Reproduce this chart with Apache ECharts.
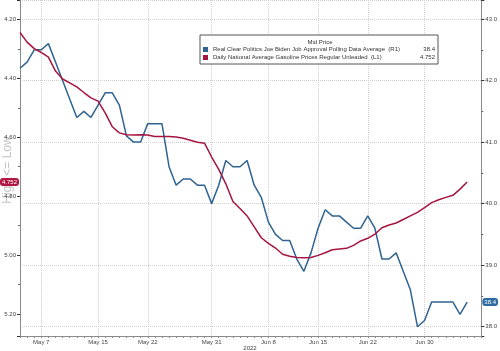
<!DOCTYPE html>
<html>
<head>
<meta charset="utf-8">
<script src="https://cdn.jsdelivr.net/npm/echarts@6/dist/echarts.min.js"></script>
<style>
  html, body { margin: 0; padding: 0; background: #fff; }
  #main { width: 500px; height: 351px; }
</style>
</head>
<body>
<div id="main"></div>
<script>
const FONT = 'Liberation Sans'

// daily categories, May 4 .. Jul 8 2022
const months = ['Jan', 'Feb', 'Mar', 'Apr', 'May', 'Jun', 'Jul']
const days = []
for (let i = 0; i < 66; i++) {
  const d = new Date(2022, 4, 4 + i)
  days.push(months[d.getMonth()] + ' ' + d.getDate())
}
const labelDays = ['May 7', 'May 15', 'May 22', 'May 31', 'Jun 8', 'Jun 15', 'Jun 22', 'Jun 30']

// Real Clear Politics Biden approval (R1)
const approval = [42.2, 42.3, 42.5, 42.5, 42.6, 42.3, 42.0, 41.7, 41.4, 41.5,
  41.4, 41.6, 41.8, 41.8, 41.6, 41.1, 41.0, 41.0, 41.3, 41.3,
  41.3, 40.6, 40.3, 40.4, 40.4, 40.3, 40.3, 40.0, 40.3, 40.7,
  40.6, 40.6, 40.7, 40.3, 40.1, 39.7, 39.5, 39.4, 39.4, 39.1,
  38.9, 39.2, 39.6, 39.9, 39.8, 39.8, 39.7, 39.6, 39.6, 39.8,
  39.6, 39.1, 39.1, 39.2, 38.9, 38.6, 38.0, 38.1, 38.4, 38.4,
  38.4, 38.4, 38.2, 38.4]

// gasoline regular unleaded (L1)
const gasPrice = [4.244, 4.277, 4.299, 4.312, 4.328, 4.375, 4.402, 4.415, 4.429, 4.448,
  4.466, 4.477, 4.517, 4.564, 4.585, 4.591, 4.592, 4.591, 4.592, 4.597,
  4.597, 4.597, 4.599, 4.603, 4.610, 4.617, 4.620, 4.667, 4.709, 4.758,
  4.818, 4.842, 4.867, 4.904, 4.941, 4.960, 4.976, 4.997, 5.004, 5.008,
  5.009, 5.008, 5.001, 4.992, 4.982, 4.979, 4.977, 4.967, 4.952, 4.943,
  4.929, 4.907, 4.898, 4.891, 4.879, 4.867, 4.855, 4.839, 4.822, 4.812,
  4.804, 4.797, 4.776, 4.752]

const nameR = 'Real Clear Politics Joe Biden Job Approval Polling Data Average  (R1)'
const nameL = 'Daily National Average Gasoline Prices Regular Unleaded  (L1)'
const lastR = approval[approval.length - 1]
const lastL = gasPrice[gasPrice.length - 1]

const BLUE = '#2f6392'
const RED = '#a5153f'
const AXIS = '#8a8a8a'
const GRID = '#d0d0d0'

const chart = echarts.init(document.getElementById('main'))

const option = {
  animation: false,
  textStyle: { fontFamily: FONT },
  grid: { left: 20, right: 18, top: 0, bottom: 15 },
  title: {
    text: 'Mid Price',
    left: 320,
    top: 39,
    padding: 0,
    z: 20,
    textAlign: 'center',
    textStyle: { fontSize: 6, fontWeight: 'normal', color: '#333', fontFamily: FONT }
  },
  legend: {
    orient: 'vertical',
    left: 200,
    top: 35,
    z: 2,
    width: 239,
    padding: [11, 3, 3, 3],
    itemGap: 1,
    itemWidth: 5,
    itemHeight: 5,
    icon: 'rect',
    backgroundColor: '#fff',
    borderColor: '#555',
    borderWidth: 1,
    data: [nameR, nameL],
    formatter: name => '{n|' + name + '}{v|' + (name === nameR ? lastR : lastL) + '}',
    textStyle: {
      fontSize: 6,
      color: '#333',
      lineHeight: 7,
      fontFamily: FONT,
      rich: {
        n: { width: 202, fontSize: 6, color: '#333', fontFamily: FONT },
        v: { width: 20, align: 'right', fontSize: 6, color: '#333', fontFamily: FONT }
      }
    }
  },
  xAxis: {
    type: 'category',
    data: days,
    boundaryGap: false,
    axisLine: { lineStyle: { color: AXIS } },
    axisTick: { show: true, interval: 0, length: 2, lineStyle: { color: AXIS } },
    axisLabel: {
      interval: (i, v) => labelDays.includes(v),
      fontSize: 6,
      color: '#444',
      margin: 3,
      fontFamily: FONT
    },
    splitLine: {
      show: true,
      interval: (i, v) => labelDays.includes(v),
      lineStyle: { color: GRID, type: 'dotted' }
    }
  },
  yAxis: [
    {
      type: 'value',
      position: 'left',
      inverse: true,
      min: 4.1338,
      max: 5.2747,
      splitNumber: 5,
      axisLine: { show: true, lineStyle: { color: AXIS } },
      axisTick: { show: true, length: 3, lineStyle: { color: '#333' } },
      minorTick: { show: true, splitNumber: 2, length: 2, lineStyle: { color: '#666' } },
      axisLabel: {
        fontSize: 6,
        color: '#444',
        margin: 4,
        fontFamily: FONT,
        formatter: v => Math.abs(v * 5 - Math.round(v * 5)) < 1e-6 ? v.toFixed(2) : ''
      },
      splitLine: { show: false },
      axisPointer: {
        show: true,
        type: 'line',
        value: lastL,
        status: 'show',
        triggerTooltip: false,
        lineStyle: { opacity: 0 },
        label: {
          show: true,
          formatter: () => String(lastL),
          backgroundColor: '#b01842',
          color: '#fff',
          fontSize: 6,
          fontFamily: FONT,
          padding: [1, 2],
          borderRadius: 3,
          margin: 1
        }
      }
    },
    {
      type: 'value',
      position: 'right',
      min: 37.849,
      max: 43.309,
      splitNumber: 5,
      axisLine: { show: true, lineStyle: { color: AXIS } },
      axisTick: { show: true, length: 3, lineStyle: { color: '#333' } },
      minorTick: { show: true, splitNumber: 2, length: 2, lineStyle: { color: '#666' } },
      axisLabel: {
        fontSize: 6,
        color: '#444',
        margin: 4,
        fontFamily: FONT,
        formatter: v => Math.abs(v - Math.round(v)) < 1e-6 ? v.toFixed(1) : ''
      },
      splitLine: { show: true, lineStyle: { color: GRID, type: 'dotted' } },
      axisPointer: {
        show: true,
        type: 'line',
        value: lastR,
        status: 'show',
        triggerTooltip: false,
        lineStyle: { opacity: 0 },
        label: {
          show: true,
          formatter: () => String(lastR),
          backgroundColor: '#2c6aa0',
          color: '#fff',
          fontSize: 6,
          fontFamily: FONT,
          padding: [1, 2],
          borderRadius: 3,
          margin: 1
        }
      }
    }
  ],
  graphic: [
    {
      type: 'text',
      x: 8,
      y: 170,
      rotation: Math.PI / 2,
      style: {
        text: 'High <= Low',
        fontSize: 12,
        fontFamily: FONT,
        fill: '#c4c4c4',
        align: 'center',
        verticalAlign: 'middle'
      },
      z: -1
    },
    {
      type: 'text',
      x: 250,
      y: 348,
      style: {
        text: '2022',
        fontSize: 6,
        fontFamily: FONT,
        fill: '#444',
        align: 'center',
        verticalAlign: 'middle'
      }
    }
  ],
  series: [
    {
      name: nameR,
      type: 'line',
      yAxisIndex: 1,
      data: approval,
      symbol: 'none',
      itemStyle: { color: BLUE },
      lineStyle: { color: BLUE, width: 1.5 }
    },
    {
      name: nameL,
      type: 'line',
      yAxisIndex: 0,
      data: gasPrice,
      symbol: 'none',
      itemStyle: { color: RED },
      lineStyle: { color: RED, width: 1.5 }
    }
  ]
}

chart.setOption(option)
</script>
</body>
</html>
